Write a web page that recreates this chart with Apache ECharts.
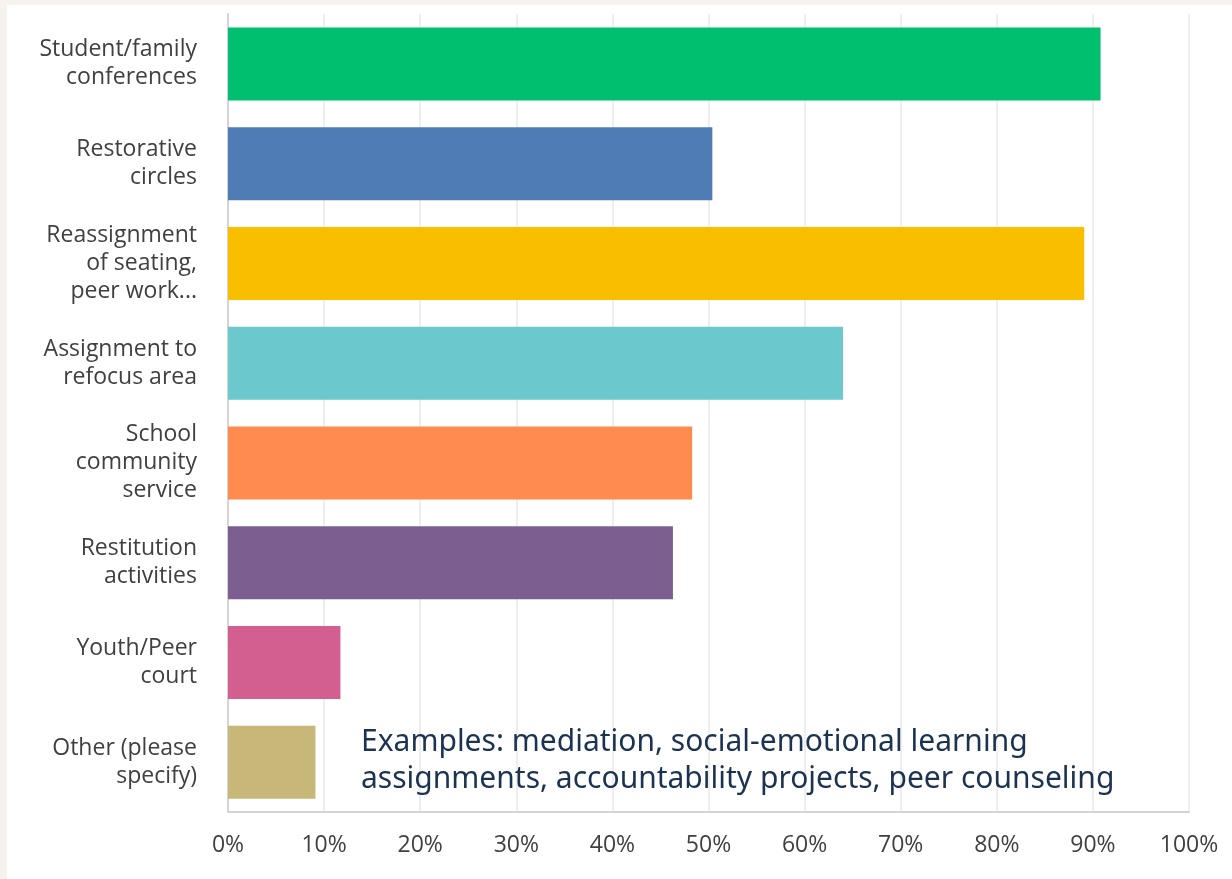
<!DOCTYPE html>
<html>
<head>
<meta charset="utf-8">
<style>
  html, body { margin: 0; padding: 0; background: #ffffff; }
  #chart { width: 1232px; height: 879px; }
</style>
<script src="https://cdn.jsdelivr.net/npm/echarts@6/dist/echarts.min.js"></script>
</head>
<body>
<div id="chart"></div>
<script>
const categories = [
  'Student/family\nconferences',
  'Restorative\ncircles',
  'Reassignment\nof seating,\npeer work...',
  'Assignment to\nrefocus area',
  'School\ncommunity\nservice',
  'Restitution\nactivities',
  'Youth/Peer\ncourt',
  'Other (please\nspecify)'
];
const percentValues = [90.8, 50.4, 89.1, 64.0, 48.3, 46.3, 11.7, 9.1];
const barColors = ['#00bf6f', '#507cb6', '#f9be00', '#6bc8cd', '#ff8b4f', '#7d5e90', '#d25f90', '#c7b879'];
const tickLabelSuffix = '%';
const noteText = 'Examples: mediation, social-emotional learning\nassignments, accountability projects, peer counseling';

const chart = echarts.init(document.getElementById('chart'), null, { renderer: 'canvas' });
chart.setOption({
  backgroundColor: '#ffffff',
  animation: false,
  grid: { left: 228, right: 43, top: 14, bottom: 67, containLabel: false },
  xAxis: {
    type: 'value',
    min: 0, max: 100, interval: 10,
    axisLine: { show: true, lineStyle: { color: '#d4d4d4', width: 2 } },
    axisTick: { show: false },
    splitLine: { show: true, lineStyle: { color: '#eeeeee', width: 2 } },
    axisLabel: {
      formatter: v => v + tickLabelSuffix,
      fontFamily: 'Open Sans', fontSize: 23, color: '#404040',
      margin: 20, lineHeight: 27
    }
  },
  yAxis: {
    type: 'category',
    data: categories,
    inverse: true,
    axisLine: { show: true, lineStyle: { color: '#d4d4d4', width: 2 } },
    axisTick: { show: false },
    splitLine: { show: false },
    axisLabel: {
      fontFamily: 'Open Sans', fontSize: 23, color: '#404040',
      margin: 31, lineHeight: 28, align: 'right',
      padding: [6, 0, 0, 0]
    }
  },
  series: [{
    type: 'bar',
    barWidth: 73,
    data: percentValues.map((v, i) => ({ value: v, itemStyle: { color: barColors[i] } })),
    itemStyle: { borderWidth: 0 }
  }],
  graphic: [
    { type: 'rect', left: 0, top: 0, shape: { width: 1232, height: 5 }, style: { fill: '#f6f2ee' }, z: 100 },
    { type: 'rect', left: 0, top: 0, shape: { width: 7, height: 879 }, style: { fill: '#f6f2ee' }, z: 100 },
    {
      type: 'text', x: 361, y: 724, z: 100,
      style: {
        text: noteText,
        font: '30px "Noto Sans"',
        fill: '#1b3350',
        lineHeight: 37,
        verticalAlign: 'top',
        align: 'left'
      }
    }
  ]
});
</script>
</body>
</html>
